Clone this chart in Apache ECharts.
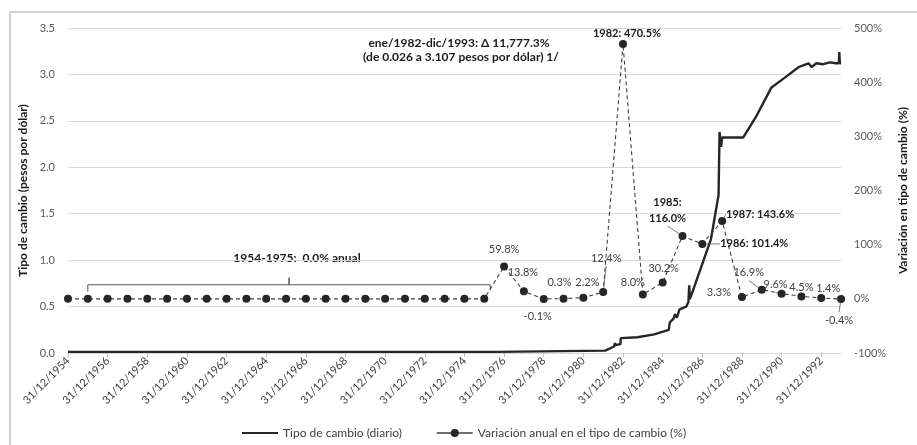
<!DOCTYPE html>
<html><head><meta charset="utf-8">
<script src="https://cdn.jsdelivr.net/npm/echarts@6/dist/echarts.min.js"></script>
<style>html,body{margin:0;padding:0;background:#fff}#c{width:917px;height:445px}</style>
</head><body><div id="c"></div>
<script>
// ---- data ----
const pctYears = [1954,1955,1956,1957,1958,1959,1960,1961,1962,1963,1964,1965,1966,1967,1968,1969,1970,1971,1972,1973,1974,1975,
  1976,1977,1978,1979,1980,1981,1982,1983,1984,1985,1986,1987,1988,1989,1990,1991,1992,1993];
const pctValues = [0,0,0,0,0,0,0,0,0,0,0,0,0,0,0,0,0,0,0,0,0,0,
  59.8,13.8,-0.1,0.3,2.2,12.4,470.5,8.0,30.2,116.0,101.4,143.6,3.3,16.9,9.6,4.5,1.4,-0.4];
const labeledFrom = 1976;
const boldYears = [1982,1985,1986,1987];

// daily exchange rate (x: 1954 = 31/12/1954)
const rateX = [1954,1975.68,1975.70,1981.10,1981.15,1981.55,1981.59,1981.62,1981.87,1981.89,1982.73,1983.57,1984.31,1984.36,1984.55,1984.62,1984.72,1984.85,1985.19,1985.30,1985.34,1985.37,1985.44,1985.54,1986.43,1986.82,1986.87,1986.95,1987.00,1988.06,1988.75,1989.49,1990.13,1990.87,1991.12,1991.36,1991.51,1991.76,1992.10,1992.44,1992.74,1992.89,1992.91,1992.94,1993.00];
const rateY = [0.0125,0.0125,0.020,0.026,0.047,0.070,0.108,0.085,0.095,0.160,0.170,0.200,0.250,0.330,0.370,0.420,0.380,0.470,0.500,0.550,0.730,0.580,0.620,0.680,1.220,1.700,2.380,2.220,2.320,2.320,2.560,2.860,2.960,3.080,3.100,3.120,3.080,3.120,3.110,3.130,3.120,3.120,3.240,3.120,3.120];

const leftTicks = [0,0.5,1,1.5,2,2.5,3,3.5];
const rightTicks = [-100,0,100,200,300,400,500];

// annotation bracket (right axis units)
const bracketX = [1955,1955,1965.15,1965.15,1965.15,1975.3,1975.3];
const bracketY = [13,26,26,39,26,26,16];

// ---- label layout (kept separate from data) ----
const labelOffsets = {1976:[0,-17],1977:[-1,-19],1978:[-6,18],1979:[-4,-16],1980:[4,-15],1981:[3,-34],1982:[4,-11],
  1983:[-10,-12],1984:[1,-14],1985:[-15,-26],1986:[52,0],1987:[38,-7],1988:[-23,-5],1989:[-13,-17],1990:[-6,-9],
  1991:[0,-9],1992:[7,-10],1993:[-2,21]};
const leaderYears = [1981,1985,1986,1987,1989,1990,1993];

const FONT = 'Lato';
const fmtPct = v => v.toFixed(1) + '%';

const pctData = pctYears.map((y, i) => {
  const v = pctValues[i];
  const item = { value: [y, v] };
  if (y >= labeledFrom) {
    const bold = boldYears.includes(y);
    let txt = fmtPct(v);
    if (bold) txt = y === 1985 ? (y + ':\n' + txt) : (y + ': ' + txt);
    item.label = {
      show: true, position: 'inside', formatter: txt,
      fontWeight: bold ? 'bold' : 'normal', color: bold ? '#1a1a1a' : '#404040',
      fontSize: 11, fontFamily: FONT, lineHeight: 16, align: 'center', verticalAlign: 'middle'
    };
    item.labelLine = { show: leaderYears.includes(y), lineStyle: { color: '#595959', width: 0.8 } };
  }
  return item;
});

const rateData = rateX.map((x, i) => [x, rateY[i]]);
const bracketData = bracketX.map((x, i) => [x, bracketY[i]]);

const chart = echarts.init(document.getElementById('c'), null, {renderer: 'canvas'});
chart.setOption({
  backgroundColor: '#fff',
  animation: false,
  textStyle: { fontFamily: FONT },
  grid: { left: 68, right: 59, top: 28, bottom: 92, containLabel: false },
  legend: {
    left: 237, top: 422, itemWidth: 36, itemHeight: 10, itemGap: 34,
    textStyle: { fontFamily: FONT, fontSize: 12, color: '#404040' },
    data: [
      { name: 'Tipo de cambio (diario)', icon: 'path://M0,4 L36,4 L36,6 L0,6 Z', itemStyle: { color: '#262626' } },
      { name: 'Variación anual en el tipo de cambio (%)', lineStyle: { type: 'solid', width: 1.5 } }
    ]
  },
  xAxis: {
    type: 'value', min: 1954, max: 1993, interval: 2,
    axisLine: { show: true, lineStyle: { color: '#d9d9d9' } },
    axisTick: { show: true, length: 4, lineStyle: { color: '#bfbfbf' } },
    splitLine: { show: false },
    axisLabel: {
      rotate: 45, margin: 6, fontSize: 11, color: '#404040', fontFamily: FONT,
      formatter: v => (v % 2 === 0 ? '31/12/' + v : ''), showMaxLabel: false
    }
  },
  yAxis: [
    {
      type: 'value', min: leftTicks[0], max: leftTicks[leftTicks.length-1], interval: 0.5,
      name: 'Tipo de cambio (pesos por dólar)', nameLocation: 'middle', nameRotate: 90, nameGap: 30,
      nameTextStyle: { fontWeight: 'bold', fontSize: 12, color: '#1a1a1a', fontFamily: FONT },
      axisLine: { show: false }, axisTick: { show: false },
      axisLabel: { formatter: v => v.toFixed(1), fontSize: 11, color: '#595959', margin: 13, fontFamily: FONT },
      splitLine: { show: true, lineStyle: { color: '#d9d9d9', width: 1.2 } }
    },
    {
      type: 'value', min: rightTicks[0], max: rightTicks[rightTicks.length-1], interval: 100,
      name: 'Variación en tipo de cambio (%)', nameLocation: 'middle', nameRotate: 90, nameGap: 49,
      nameTextStyle: { fontWeight: 'bold', fontSize: 12, color: '#1a1a1a', fontFamily: FONT },
      axisLine: { show: false }, axisTick: { show: false },
      axisLabel: { formatter: '{value}%', fontSize: 11, color: '#595959', margin: 13, fontFamily: FONT },
      splitLine: { show: false }
    }
  ],
  series: [
    {
      name: 'Tipo de cambio (diario)', type: 'line', yAxisIndex: 0, data: rateData,
      showSymbol: false, symbol: 'none', z: 2,
      lineStyle: { color: '#262626', width: 2.4 }, itemStyle: { color: '#262626' }
    },
    {
      name: 'Variación anual en el tipo de cambio (%)', type: 'line', yAxisIndex: 1, data: pctData,
      symbol: 'circle', symbolSize: 8, z: 3,
      lineStyle: { color: '#404040', width: 1.1, type: [4, 3] },
      itemStyle: { color: '#262626', borderWidth: 0 },
      labelLayout: p => {
        const o = labelOffsets[pctYears[p.dataIndex]];
        return o ? { dx: o[0], dy: o[1] } : {};
      }
    },
    {
      name: 'bracket', type: 'line', yAxisIndex: 1, data: bracketData, symbol: 'none', silent: true, z: 1,
      lineStyle: { color: '#595959', width: 1 }
    }
  ],
  graphic: [
    { type: 'rect', shape: { x: 10, y: 12, width: 950, height: 500 }, style: { fill: 'none', stroke: '#a6a6a6', lineWidth: 1 }, silent: true },
    { type: 'text', x: 459, y: 43, style: { text: 'ene/1982-dic/1993: Δ 11,777.3%', font: 'bold 12px Lato', fill: '#1a1a1a', textAlign: 'center', textVerticalAlign: 'middle' } },
    { type: 'text', x: 461, y: 57, style: { text: '(de 0.026 a 3.107 pesos por dólar) 1/', font: 'bold 12px Lato', fill: '#1a1a1a', textAlign: 'center', textVerticalAlign: 'middle' } },
    { type: 'text', x: 297, y: 258, style: { text: '1954-1975:  0.0% anual', font: 'bold 12px Lato', fill: '#1a1a1a', textAlign: 'center', textVerticalAlign: 'middle' } }
  ]
});
</script></body></html>
